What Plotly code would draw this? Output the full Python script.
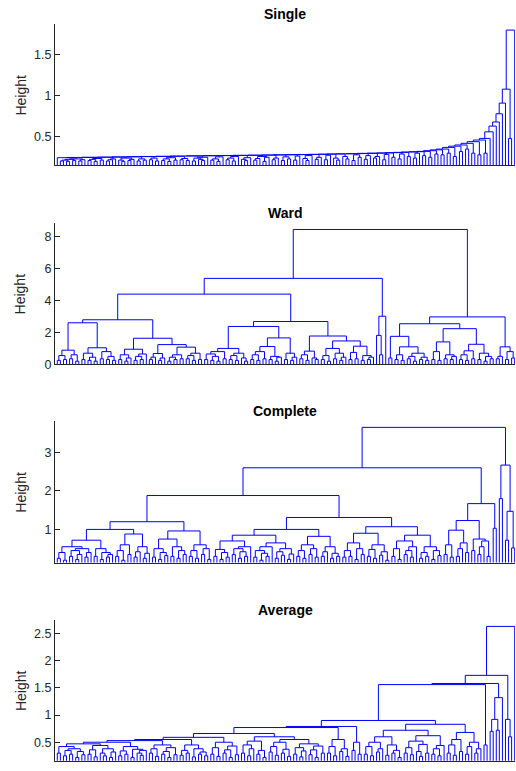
import plotly.graph_objects as go

# ---------------- data: merge heights between neighbouring leaves (left to right) ----------------
N_LEAVES = 150

single_gaps = [
    0.245, 0.205, 0.215, 0.2, 0.225, 0.21, 0.23, 0.205, 0.22, 0.248,
    0.21, 0.225, 0.2, 0.235, 0.215, 0.25, 0.205, 0.22, 0.23, 0.252,
    0.215, 0.2, 0.24, 0.21, 0.225, 0.255, 0.205, 0.23, 0.215, 0.258,
    0.22, 0.24, 0.205, 0.26, 0.21, 0.23, 0.2, 0.245, 0.215, 0.262,
    0.22, 0.235, 0.21, 0.265, 0.205, 0.24, 0.225, 0.21, 0.25, 0.268,
    0.215, 0.23, 0.2, 0.255, 0.27, 0.22, 0.24, 0.205, 0.26, 0.272,
    0.225, 0.21, 0.245, 0.274, 0.215, 0.235, 0.26, 0.2, 0.25, 0.276,
    0.22, 0.24, 0.278, 0.21, 0.255, 0.23, 0.28, 0.215, 0.265, 0.282,
    0.235, 0.21, 0.27, 0.284, 0.225, 0.25, 0.286, 0.22, 0.275, 0.288,
    0.24, 0.215, 0.29, 0.26, 0.23, 0.292, 0.21, 0.28, 0.25, 0.295,
    0.225, 0.27, 0.298, 0.24, 0.26, 0.3, 0.22, 0.285, 0.303, 0.25,
    0.306, 0.23, 0.29, 0.31, 0.26, 0.314, 0.24, 0.3, 0.318, 0.27,
    0.322, 0.25, 0.33, 0.29, 0.34, 0.28, 0.35, 0.3, 0.37, 0.26,
    0.385, 0.32, 0.4, 0.35, 0.42, 0.3, 0.44, 0.28, 0.46, 0.3,
    0.48, 0.56, 0.63, 0.68, 0.78, 0.91, 1.08, 0.48, 1.8,
]

ward_gaps = [
    0.25, 0.55, 0.3, 0.89, 0.35, 0.6, 0.2,
    2.61,
    0.3, 0.7, 0.25, 0.45, 0.2, 1.04, 0.35, 0.8, 0.3, 0.5, 0.25,
    2.80,
    0.3, 0.6, 0.2, 0.4, 0.95, 0.25, 0.5, 0.3, 0.65,
    1.64,
    0.3, 0.45, 0.68, 0.25, 0.4,
    1.24,
    0.2, 0.45, 0.3, 0.6, 0.35,
    1.08,
    0.35, 0.55, 0.25, 0.7, 0.3,
    4.41,
    0.3, 0.65, 0.25, 0.5, 0.2, 0.8, 0.35, 1.0, 0.3, 0.55, 0.25, 0.7, 0.4, 0.2,
    2.38,
    0.3, 0.6, 0.25, 0.8, 0.35, 1.12, 0.3, 0.5, 0.2, 0.45,
    1.66,
    0.3, 0.7, 0.25, 0.45,
    2.69,
    0.35, 0.6, 0.25, 0.83, 0.4, 0.3,
    1.78,
    0.3, 0.55, 0.2, 1.0, 0.35, 0.7, 0.25, 0.45,
    1.47,
    0.3, 0.75, 0.35, 1.14, 0.25, 0.55, 0.3, 0.45,
    5.40,
    1.82, 0.6, 3.02,
    8.47,
    0.4, 1.76,
    0.3, 0.6, 0.25, 1.1, 0.35, 0.5, 0.2, 0.7, 0.3, 0.45, 0.25,
    2.55,
    0.3, 0.8, 0.25, 1.41, 0.35, 0.6, 0.3, 0.5,
    2.24,
    0.3, 0.6, 0.25, 0.85, 0.35, 1.26, 0.3, 0.7, 0.2, 0.5, 0.35,
    2.98,
    0.35, 0.5, 1.1, 0.3, 0.8, 0.4,
]

complete_gaps = [
    0.25, 0.4, 0.2, 0.55, 0.3, 0.45, 0.22, 0.35, 0.5, 0.28, 0.4,
    0.72,
    0.3, 0.5, 0.22, 0.4, 0.28, 0.35,
    1.0,
    0.3, 0.45, 0.2, 0.6, 0.35, 0.88, 0.28, 0.42, 0.55, 0.25, 0.38,
    1.20,
    0.28, 0.5, 0.22, 0.4, 0.32, 0.75, 0.3, 0.55, 0.25, 0.45, 0.35,
    0.96,
    0.3, 0.45, 0.25, 0.6, 0.35, 0.5, 0.22,
    1.88,
    0.3, 0.48, 0.22, 0.4, 0.28, 0.7, 0.35, 0.5, 0.25, 0.42, 0.3, 0.55,
    0.85,
    0.28, 0.45, 0.2, 0.38, 0.3, 0.55, 0.65, 0.25, 0.42, 0.33, 0.5, 0.22, 0.36,
    1.0,
    0.3, 0.45, 0.25, 0.6, 0.35, 0.5, 0.28,
    0.82,
    0.3, 0.42, 0.55, 0.25, 0.38, 0.3,
    1.31,
    0.28, 0.45, 0.3, 0.65, 0.22, 0.5, 0.35,
    0.9,
    0.3, 0.48, 0.25, 0.6, 0.33, 0.42, 0.2,
    1.07,
    0.3, 0.5, 0.22, 0.7, 0.35, 0.45, 0.28, 0.55,
    0.85,
    0.25, 0.4, 0.3, 0.55, 0.22, 0.45, 0.32,
    2.60,
    0.35, 0.6, 0.28,
    0.98,
    0.3, 0.5, 0.65, 0.4,
    1.23,
    0.45,
    0.75,
    0.35, 0.55, 0.7, 0.3,
    1.67,
    1.03,
    3.65,
    1.80, 2.67, 0.72, 1.47, 0.52,
]

average_gaps = [
    0.3, 0.42, 0.25, 0.35, 0.28, 0.38, 0.22, 0.33, 0.27,
    0.47,
    0.28, 0.36, 0.23, 0.44, 0.3, 0.25, 0.38, 0.22, 0.32,
    0.5,
    0.25, 0.34, 0.28, 0.42, 0.22, 0.37, 0.3, 0.26, 0.35,
    0.53,
    0.3, 0.38, 0.24, 0.45, 0.28, 0.33, 0.22, 0.4, 0.27,
    0.55,
    0.26, 0.35, 0.3, 0.45, 0.23, 0.38, 0.28, 0.32, 0.25,
    0.59,
    0.28, 0.4, 0.24, 0.5, 0.3, 0.36, 0.22, 0.43, 0.27,
    0.66,
    0.3, 0.45, 0.25, 0.38, 0.52, 0.28, 0.35, 0.22, 0.6, 0.32, 0.42, 0.26, 0.5, 0.3,
    0.37, 0.24, 0.55, 0.28, 0.4, 0.23, 0.34, 0.47, 0.27, 0.36, 0.22, 0.43, 0.3,
    0.77,
    0.3, 0.42, 0.25, 0.55, 0.33, 0.38, 0.24,
    0.79,
    0.35, 0.5, 0.28,
    0.90,
    0.28, 0.42, 0.25, 0.5, 0.32, 0.38, 0.6, 0.26, 0.45, 0.3, 0.35, 0.22, 0.72,
    0.3, 0.4, 0.27, 0.52, 0.33, 0.24, 0.46, 0.3, 0.62, 0.28, 0.38, 0.25, 0.44,
    0.83,
    0.3, 0.45, 0.26, 0.55, 0.33, 0.68, 0.28, 0.42, 0.5, 0.3, 0.38,
    1.56,
    0.45,
    1.58,
    0.7, 0.92, 0.72, 1.32,
    1.73,
    0.92, 0.6,
    2.63,
]

titles = ["Single", "Ward", "Complete", "Average"]
all_gaps = [single_gaps, ward_gaps, complete_gaps, average_gaps]
y_ranges = [[0.15, 1.877], [0.0, 8.9], [0.14, 3.82], [0.16, 2.755]]
y_tickvals = [[0.5, 1, 1.5], [0, 2, 4, 6, 8], [1, 2, 3], [0.5, 1, 1.5, 2, 2.5]]
y_domains = [[0.7834, 0.9689], [0.5231, 0.7086], [0.2637, 0.4492], [0.0043, 0.1890]]

LINE_COLOR = "#0000FF"
AXIS_COLOR = "#262626"
FONT = "Liberation Sans, Arial, Helvetica, sans-serif"


def dendro_segments(gaps):
    """Rebuild the tree from adjacent-leaf merge heights and return U-shaped link paths."""
    xs, ys = [], []

    def rec(a, b):
        if a == b:
            return float(a), 0.0
        k = max(range(a, b), key=lambda j: gaps[j - 1])
        h = gaps[k - 1]
        xl, hl = rec(a, k)
        xr, hr = rec(k + 1, b)
        xs.extend([xl, xl, xr, xr, None])
        ys.extend([hl, h, h, hr, None])
        return (xl + xr) / 2.0, h

    rec(1, len(gaps) + 1)
    return xs, ys


fig = go.Figure()
annotations = []
layout_axes = {}

for i, (title, gaps) in enumerate(zip(titles, all_gaps)):
    sfx = "" if i == 0 else str(i + 1)
    xs, ys = dendro_segments(gaps)
    fig.add_trace(go.Scatter(
        x=xs, y=ys, mode="lines",
        line=dict(color=LINE_COLOR, width=1),
        xaxis="x" + sfx, yaxis="y" + sfx,
        hoverinfo="skip", showlegend=False,
    ))
    layout_axes["xaxis" + sfx] = dict(
        domain=[0, 1], range=[0.25, 150.1], anchor="y" + sfx,
        showline=True, linecolor=AXIS_COLOR, linewidth=1,
        ticks="", showticklabels=False, showgrid=False, zeroline=False,
    )
    layout_axes["yaxis" + sfx] = dict(
        domain=y_domains[i], range=y_ranges[i], anchor="x" + sfx,
        tickvals=y_tickvals[i], ticks="inside", ticklen=5, tickwidth=1,
        tickcolor=AXIS_COLOR, tickfont=dict(size=12.5, color=AXIS_COLOR, family=FONT),
        showline=True, linecolor=AXIS_COLOR, linewidth=1,
        showgrid=False, zeroline=False,
    )
    top = y_domains[i][1]
    mid = (y_domains[i][0] + y_domains[i][1]) / 2
    annotations.append(dict(
        text="<b>" + title + "</b>", xref="paper", yref="paper",
        x=0.5, y=top, xanchor="center", yanchor="bottom", yshift=0,
        showarrow=False, font=dict(size=14, color="#000000", family=FONT),
    ))
    annotations.append(dict(
        text="Height", xref="paper", yref="paper",
        x=-0.074, y=mid, xanchor="center", yanchor="middle", textangle=-90,
        showarrow=False, font=dict(size=14, color=AXIS_COLOR, family=FONT),
    ))

fig.update_layout(
    width=516, height=771, autosize=False,
    margin=dict(l=55, r=1, t=0, b=0, pad=0),
    paper_bgcolor="white", plot_bgcolor="white",
    font=dict(family=FONT),
    annotations=annotations,
    **layout_axes,
)

fig.write_html(
    "out.html",
    config={"displayModeBar": False, "responsive": False},
    post_script=(
        "document.documentElement.style.margin='0';"
        "document.body.style.margin='0';document.body.style.padding='0';"
        "document.body.style.overflow='hidden';"
    ),
)
